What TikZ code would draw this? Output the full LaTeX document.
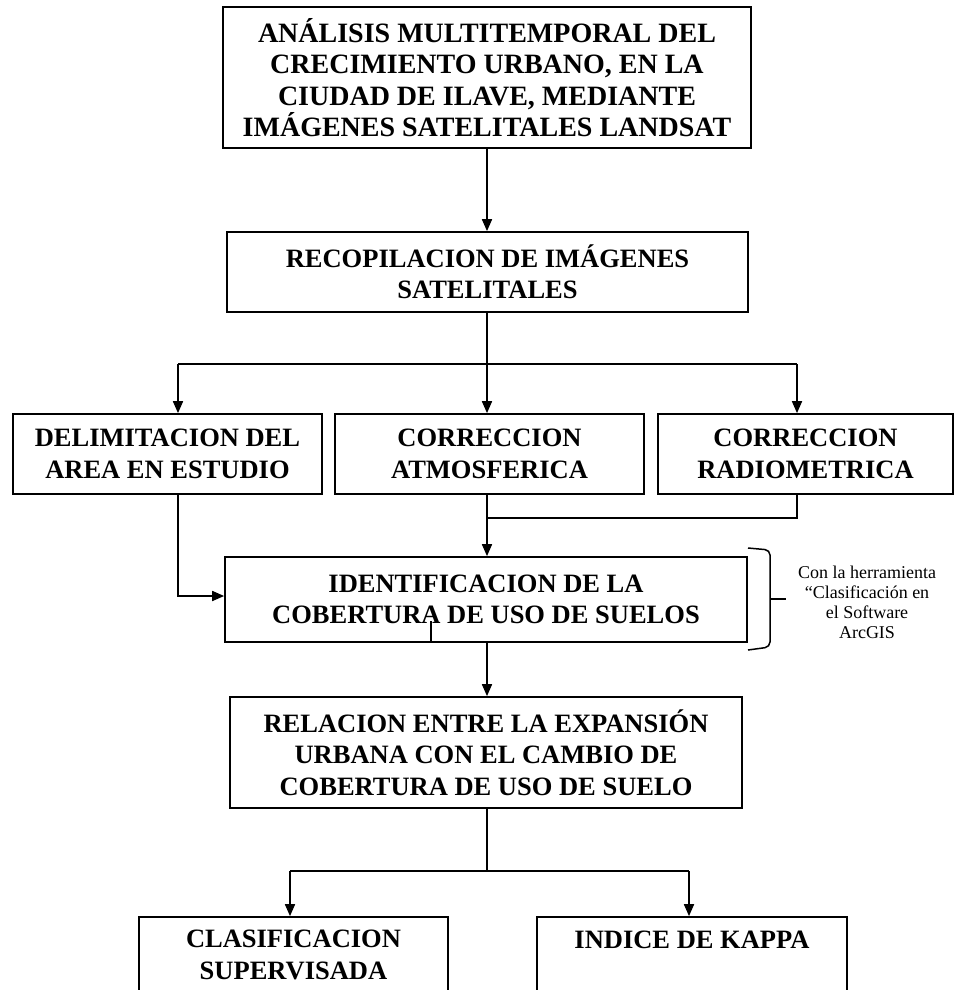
\documentclass[tikz,border=0pt]{standalone}
\usepackage{fontspec}
\setmainfont{Liberation Serif}
\usepackage{tikz}
\usetikzlibrary{arrows.meta}

\begin{document}
\begin{tikzpicture}[
  x=1pt, y=-1pt,
  font=\fontsize{26.5}{31.5}\selectfont\bfseries,
  box/.style={draw, line width=1.7pt, align=center, inner sep=0pt, fill=white},
  note/.style={font=\fontsize{18}{20}\selectfont, align=center, inner sep=0pt},
  ln/.style={line width=1.7pt},
  arr/.style={ln, -{Triangle[length=12pt,width=10pt]}},
]
\useasboundingbox (0,0) rectangle (956,990);
\clip (0,0) rectangle (956,990);
\node[box, minimum width=528pt, minimum height=141pt,
  font=\fontsize{28}{31.5}\selectfont\bfseries] (analisis) at (487,77.5)
  {ANÁLISIS MULTITEMPORAL DEL\\CRECIMIENTO URBANO, EN LA\\CIUDAD DE ILAVE, MEDIANTE\\IMÁGENES SATELITALES LANDSAT};
\node[box, minimum width=521pt, minimum height=80pt] (recop) at (487.5,272)
  {RECOPILACION DE IMÁGENES\\SATELITALES};
\node[box, minimum width=309pt, minimum height=80pt] (delim) at (167.5,454)
  {DELIMITACION DEL\\AREA EN ESTUDIO};
\node[box, minimum width=309pt, minimum height=80pt] (atmos) at (489.5,454)
  {CORRECCION\\ATMOSFERICA};
\node[box, minimum width=295pt, minimum height=80pt] (radio) at (805.5,454)
  {CORRECCION\\RADIOMETRICA};
\node[box, minimum width=522pt, minimum height=85pt] (ident) at (486,599.5)
  {IDENTIFICACION DE LA\\COBERTURA DE USO DE SUELOS};
\node[box, minimum width=512pt, minimum height=111pt] (relac) at (486,752.5)
  {RELACION ENTRE LA EXPANSIÓN\\URBANA CON EL CAMBIO DE\\COBERTURA DE USO DE SUELO};
\node[box, minimum width=309pt, minimum height=76pt] (clasif) at (293.5,955)
  {CLASIFICACION\\SUPERVISADA};
\node[box, minimum width=310pt, minimum height=76pt] (kappa) at (692,955)
  {INDICE DE KAPPA\\\mbox{}};
\node[note] (nota) at (867,602)
  {Con la herramienta\\“Clasificación en\\el Software\\ArcGIS};
% junctions
\coordinate (split) at (487,364);
\coordinate (sl) at (178,364);
\coordinate (sr) at (797,364);
\coordinate (jn) at (487,518);
\coordinate (tk) at (431,621);
\coordinate (bl) at (290,871);
\coordinate (br) at (689,871);
\draw[arr] (analisis.south -| split) -- (split |- recop.north);
\draw[ln] (recop.south -| split) -- (split);
\draw[ln] (sl) -- (sr);
\draw[arr] (sl) -- (sl |- delim.north);
\draw[arr] (split) -- (split |- atmos.north);
\draw[arr] (sr) -- (sr |- radio.north);
\draw[arr] (sl |- delim.south) |- ([yshift=3.5pt]ident.west);
\draw[arr] (split |- atmos.south) -- (split |- ident.north);
\draw[ln] (sr |- radio.south) |- (jn);
\draw[ln] (tk) -- (tk |- ident.south);
\draw[arr] (ident.south -| split) -- (split |- relac.north);
\draw[ln] (relac.south -| split) -- (split |- bl);
\draw[ln] (bl) -- (br);
\draw[arr] (bl) -- (bl |- clasif.north);
\draw[arr] (br) -- (br |- kappa.north);
% brace
\draw[line width=1.5pt, rounded corners=5pt] (748,548) -- (770,550) -- (770,647) -- (748,650);
\draw[line width=1.5pt] (770,599) -- (786,599);
\end{tikzpicture}
\end{document}
